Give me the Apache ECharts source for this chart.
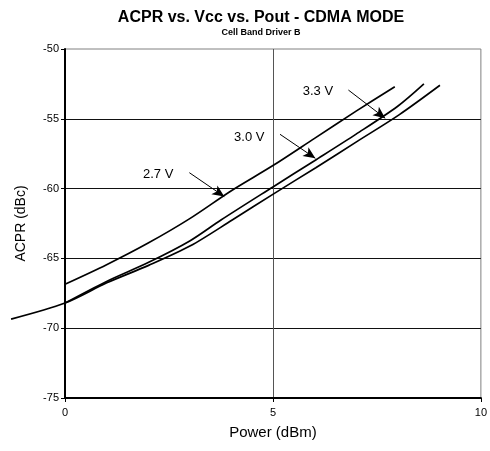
<!DOCTYPE html>
<html>
	<head>
		<meta charset="utf-8" />
		<title>ACPR vs. Vcc vs. Pout</title>
		<script src="https://cdn.jsdelivr.net/npm/echarts@6/dist/echarts.min.js"></script>
	</head>

	<body style="margin:0">
		<div id="main" style="width: 490px;height:451px;"></div>
		<script type="text/javascript">
			// Power (dBm) / ACPR (dBc) points
			var power27 = [0, 1, 2, 3, 4, 5, 6, 7, 7.93];
			var acpr27 = [-66.85, -65.45, -63.9, -62.15, -60.15, -58.35, -56.4, -54.45, -52.7];
			var power30 = [0, 1, 2, 3, 3.75, 5, 6, 7, 8, 8.63];
			var acpr30 = [-68.2, -66.65, -65.3, -63.75, -62.25, -59.88, -58.0, -56.1, -54.1, -52.5];
			// this one starts left of the axis, as in the original
			var power33 = [-1.29, 0, 1, 2, 3, 4, 5, 6, 7, 8, 8.97];
			var acpr33 = [-69.35, -68.2, -66.75, -65.5, -64.1, -62.25, -60.36, -58.5, -56.6, -54.7, -52.6];

			// annotation labels: [text, label centre, arrow start, arrow tip]
			var labels27 = ['2.7 V', [2.24, -58.95], [2.99, -58.86], [3.83, -60.57]];
			var labels30 = ['3.0 V', [4.43, -56.34], [5.17, -56.11], [6.02, -57.83]];
			var labels33 = ['3.3 V', [6.05, -53.06], [6.78, -52.94], [7.66, -54.96]];

			var font = 'Liberation Sans, Arial, sans-serif';

			function pairs(xs, ys) {
				var out = [];
				for (var i = 0; i < xs.length; i++) {
					out.push([xs[i], ys[i]]);
				}
				return out;
			}

			function arrowLine(a) {
				return {
					silent: true,
					symbol: ['none', 'arrow'],
					lineStyle: { color: '#000', width: 1, type: 'solid' },
					label: { show: false },
					data: [[
						{ coord: a[2], symbol: 'none' },
						{ coord: a[3], symbol: 'arrow', symbolSize: [8, 12] }
					]]
				};
			}

			function arrowText(a) {
				return {
					silent: true,
					symbol: 'circle',
					symbolSize: 0,
					label: {
						show: true,
						position: 'inside',
						formatter: a[0],
						color: '#000',
						fontFamily: font,
						fontSize: 13
					},
					data: [{ coord: a[1] }]
				};
			}

			function curve(name, xs, ys, a, axisIdx) {
				return {
					name: name,
					type: 'line',
					xAxisIndex: axisIdx,
					yAxisIndex: axisIdx,
					smooth: 0.3,
					showSymbol: false,
					clip: false,
					lineStyle: { color: '#000', width: 1.7 },
					data: pairs(xs, ys),
					markLine: arrowLine(a),
					markPoint: arrowText(a)
				};
			}

			var myChart = echarts.init(document.getElementById('main'));

			var pxPerUnit = (490 - 7 - 65) / 10;

			var option = {
				animation: false,
				title: [{
					text: 'ACPR vs. Vcc vs. Pout - CDMA MODE',
					left: 256,
					top: 5,
					textAlign: 'center',
					textStyle: { fontFamily: font, fontSize: 16, fontWeight: 'bold', color: '#000' }
				}, {
					text: 'Cell Band Driver B',
					left: 256,
					top: 23,
					textAlign: 'center',
					textStyle: { fontFamily: font, fontSize: 9, fontWeight: 'bold', color: '#000' }
				}],
				grid: [{
					left: 65,
					right: 7,
					top: 49,
					bottom: 53,
					show: true,
					borderColor: '#808080',
					borderWidth: 1
				}, {
					// hidden twin grid, same scale, reaching left of 0
					left: 65 - 1.29 * pxPerUnit,
					right: 7,
					top: 49,
					bottom: 53
				}],
				xAxis: [{
					type: 'value',
					min: 0,
					max: 10,
					interval: 5,
					name: 'Power (dBm)',
					nameLocation: 'middle',
					nameGap: 27,
					nameTextStyle: { fontFamily: font, fontSize: 15, color: '#000' },
					axisLine: { lineStyle: { color: '#000', width: 2 } },
					axisTick: { length: 4, lineStyle: { color: '#000' } },
					axisLabel: { fontFamily: font, fontSize: 11, color: '#000', margin: 9 },
					splitLine: { show: true, showMinLine: false, showMaxLine: false, lineStyle: { color: '#555', width: 1 } }
				}, {
					gridIndex: 1,
					show: false,
					type: 'value',
					min: -1.29,
					max: 10
				}],
				yAxis: [{
					type: 'value',
					min: -75,
					max: -50,
					interval: 5,
					name: 'ACPR (dBc)',
					nameLocation: 'middle',
					nameGap: 37,
					nameTextStyle: { fontFamily: font, fontSize: 14, color: '#000' },
					axisLine: { show: true, lineStyle: { color: '#000', width: 2 } },
					axisTick: { show: true, length: 4, lineStyle: { color: '#000' } },
					axisLabel: { fontFamily: font, fontSize: 11, color: '#000', margin: 6 },
					splitLine: { show: true, showMinLine: false, showMaxLine: false, lineStyle: { color: '#111', width: 1 } }
				}, {
					gridIndex: 1,
					show: false,
					type: 'value',
					min: -75,
					max: -50
				}],
				series: [
					curve('2.7 V', power27, acpr27, labels27, 0),
					curve('3.0 V', power30, acpr30, labels30, 0),
					curve('3.3 V', power33, acpr33, labels33, 1)
				]
			};
			myChart.setOption(option);
		</script>

	</body>

</html>
